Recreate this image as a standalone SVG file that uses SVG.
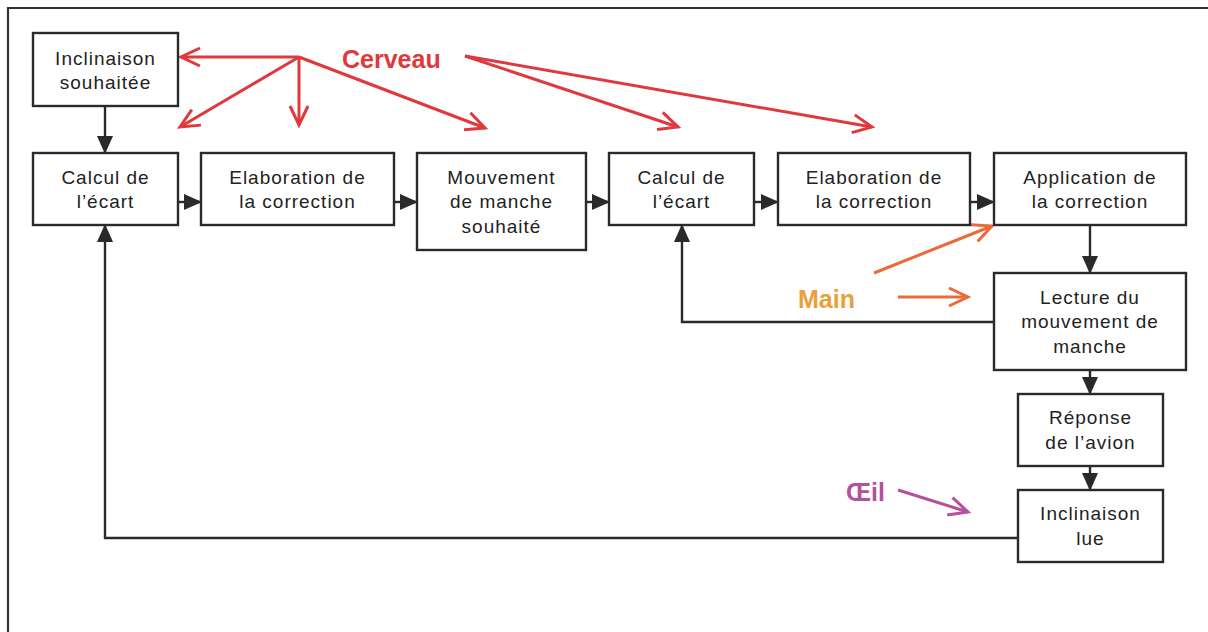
<svg xmlns="http://www.w3.org/2000/svg" width="1208" height="632" viewBox="0 0 1208 632">
<style>
.box{fill:#fff;stroke:#2a2a2a;stroke-width:2.4}
.t{font-family:"Liberation Sans",Arial,sans-serif;font-size:19px;letter-spacing:1px;fill:#222;text-anchor:middle}
.conn{fill:none;stroke:#2a2a2a;stroke-width:2.4}
.red{fill:none;stroke:#e0383c;stroke-width:3}
.org{fill:none;stroke:#ea6b3a;stroke-width:3}
.mag{fill:none;stroke:#b4509c;stroke-width:3}
.lbl{font-family:"Liberation Sans",Arial,sans-serif;font-size:25px;font-weight:bold}
</style>
<defs>
<marker id="ah" markerUnits="userSpaceOnUse" viewBox="0 0 18 16" markerWidth="18" markerHeight="16" refX="17" refY="8" orient="auto"><path d="M0,0 L18,8 L0,16 Z" fill="#2a2a2a"/></marker>
<marker id="rv" markerUnits="userSpaceOnUse" viewBox="-2 -2 24 22" markerWidth="24" markerHeight="22" refX="19" refY="9" orient="auto"><path d="M0,0 L19,9 L0,18" fill="none" stroke="#e0383c" stroke-width="3"/></marker>
<marker id="ov" markerUnits="userSpaceOnUse" viewBox="-2 -2 24 22" markerWidth="24" markerHeight="22" refX="19" refY="9" orient="auto"><path d="M0,0 L19,9 L0,18" fill="none" stroke="#ea6b3a" stroke-width="3"/></marker>
<marker id="mv" markerUnits="userSpaceOnUse" viewBox="-2 -2 24 22" markerWidth="24" markerHeight="22" refX="19" refY="9" orient="auto"><path d="M0,0 L19,9 L0,18" fill="none" stroke="#b4509c" stroke-width="3"/></marker>
</defs>
<rect width="1208" height="632" fill="#fff"/>
<path d="M8,632 V8 H1208" fill="none" stroke="#333" stroke-width="2.2"/>

<g id="connectors">
<path class="conn" d="M105,106 V153" marker-end="url(#ah)"/>
<path class="conn" d="M178,202 H201" marker-end="url(#ah)"/>
<path class="conn" d="M394,202 H417" marker-end="url(#ah)"/>
<path class="conn" d="M586,202 H609" marker-end="url(#ah)"/>
<path class="conn" d="M754,202 H778" marker-end="url(#ah)"/>
<path class="conn" d="M970,202 H994" marker-end="url(#ah)"/>
<path class="conn" d="M1090,225 V273" marker-end="url(#ah)"/>
<path class="conn" d="M1090,370 V394" marker-end="url(#ah)"/>
<path class="conn" d="M1090,466 V490" marker-end="url(#ah)"/>
<path class="conn" d="M994,322 H682 V225" marker-end="url(#ah)"/>
<path class="conn" d="M1018,538 H105 V225" marker-end="url(#ah)"/>
<path class="red" d="M299,57 H181" marker-end="url(#rv)"/>
<path class="red" d="M299,57 L180,127" marker-end="url(#rv)"/>
<path class="red" d="M299,57 V125" marker-end="url(#rv)"/>
<path class="red" d="M299,57 L485,128" marker-end="url(#rv)"/>
<path class="red" d="M465,56 L678,127" marker-end="url(#rv)"/>
<path class="red" d="M465,56 L872,127" marker-end="url(#rv)"/>
<path class="org" d="M874,273 L992,226" marker-end="url(#ov)"/>
<path class="org" d="M898,297 H968" marker-end="url(#ov)"/>
<path class="mag" d="M898,490 L968,512" marker-end="url(#mv)"/>
</g>

<g id="n-incl-souhaitee"><rect class="box" x="33" y="33" width="145" height="73"/><text class="t" x="105.5" y="65">Inclinaison</text><text class="t" x="105.5" y="89">souhaitée</text></g>
<g id="n-calcul1"><rect class="box" x="33" y="153" width="145" height="72"/><text class="t" x="105.5" y="184">Calcul de</text><text class="t" x="105.5" y="208">l’écart</text></g>
<g id="n-elab1"><rect class="box" x="201" y="153" width="193" height="72"/><text class="t" x="297.5" y="184">Elaboration de</text><text class="t" x="297.5" y="208">la correction</text></g>
<g id="n-mouvement"><rect class="box" x="417" y="153" width="169" height="97"/><text class="t" x="501.5" y="184">Mouvement</text><text class="t" x="501.5" y="208">de manche</text><text class="t" x="501.5" y="233">souhaité</text></g>
<g id="n-calcul2"><rect class="box" x="609" y="153" width="145" height="72"/><text class="t" x="681.5" y="184">Calcul de</text><text class="t" x="681.5" y="208">l’écart</text></g>
<g id="n-elab2"><rect class="box" x="778" y="153" width="192" height="72"/><text class="t" x="874" y="184">Elaboration de</text><text class="t" x="874" y="208">la correction</text></g>
<g id="n-application"><rect class="box" x="994" y="153" width="192" height="72"/><text class="t" x="1090" y="184">Application de</text><text class="t" x="1090" y="208">la correction</text></g>
<g id="n-lecture"><rect class="box" x="994" y="273" width="192" height="97"/><text class="t" x="1090" y="304">Lecture du</text><text class="t" x="1090" y="328">mouvement de</text><text class="t" x="1090" y="353">manche</text></g>
<g id="n-reponse"><rect class="box" x="1018" y="394" width="145" height="72"/><text class="t" x="1090.5" y="424">Réponse</text><text class="t" x="1090.5" y="449">de l’avion</text></g>
<g id="n-incl-lue"><rect class="box" x="1018" y="490" width="145" height="72"/><text class="t" x="1090.5" y="520">Inclinaison</text><text class="t" x="1090.5" y="545">lue</text></g>

<g id="labels">
<text class="lbl" x="342" y="68" fill="#e0383c">Cerveau</text>
<text class="lbl" x="798" y="308" fill="#eaa03a">Main</text>
<text class="lbl" x="846" y="501" fill="#b4509c" font-size="23">Œil</text>
</g>
</svg>
